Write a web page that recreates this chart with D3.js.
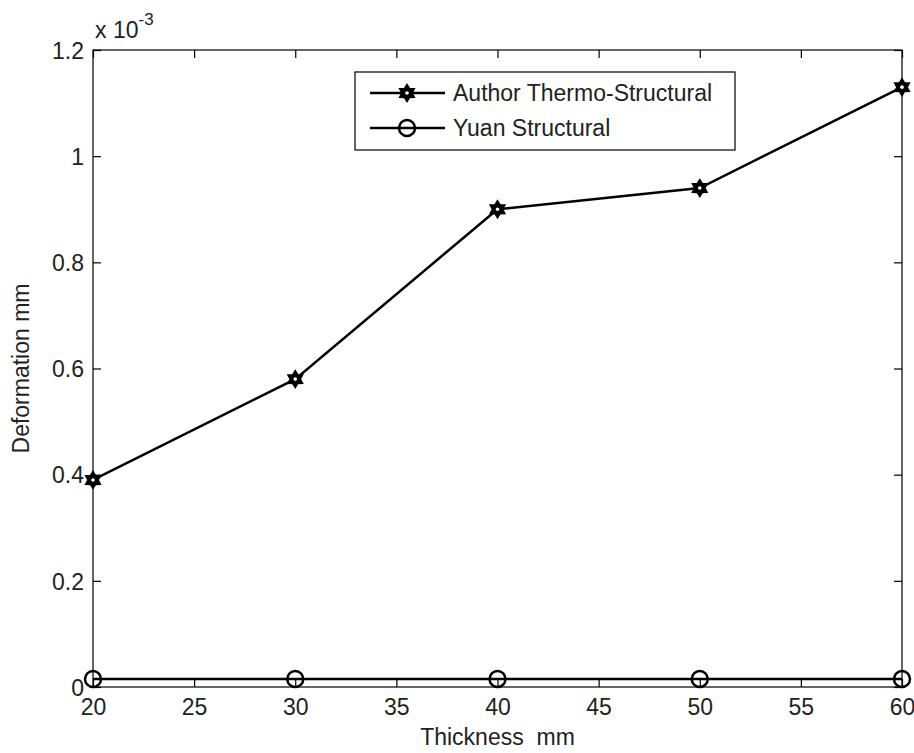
<!DOCTYPE html>
<html>
<head>
<meta charset="utf-8">
<script src="https://cdn.jsdelivr.net/npm/d3@7"></script>
<style>
  body { margin: 0; background: #fff; }
  text { font-family: "Liberation Sans", Arial, sans-serif; fill: #222; white-space: pre; }
</style>
</head>
<body>
<svg id="chart" width="914" height="753"></svg>
<script>
// data (deformation in units of 1e-3 mm)
const thickness = [20, 30, 40, 50, 60];
const authorThermo = [0.39, 0.58, 0.90, 0.94, 1.13];
const yuanStructural = [0.015, 0.015, 0.015, 0.015, 0.015];
const xTicks = [20, 25, 30, 35, 40, 45, 50, 55, 60];
const yTicks = [0, 0.2, 0.4, 0.6, 0.8, 1, 1.2];
const seriesNames = ['Author Thermo-Structural', 'Yuan Structural'];

const margin = { top: 50, right: 12, bottom: 66, left: 93 };
const W = 914, H = 753;
const w = W - margin.left - margin.right, h = H - margin.top - margin.bottom;
const fs = 23, tick = 8;

const svg = d3.select('#chart');
const g = svg.append('g').attr('transform', `translate(${margin.left},${margin.top})`);

const x = d3.scaleLinear().domain([20, 60]).range([0, w]);
const y = d3.scaleLinear().domain([0, 1.2]).range([h, 0]);

// box
g.append('rect').attr('width', w).attr('height', h)
  .attr('fill', 'none').attr('stroke', '#000').attr('stroke-width', 1.2);

// ticks on all four sides, pointing inward
const xAxis = g.append('g').attr('transform', `translate(0,${h})`)
  .call(d3.axisBottom(x).tickValues(xTicks).tickSizeInner(-tick).tickSizeOuter(0).tickPadding(12));
const xTop = g.append('g')
  .call(d3.axisTop(x).tickValues(xTicks).tickSizeInner(-tick).tickSizeOuter(0).tickFormat(''));
const yAxis = g.append('g')
  .call(d3.axisLeft(y).tickValues(yTicks).tickSizeInner(-tick).tickSizeOuter(0).tickPadding(9)
    .tickFormat(d => d === 0 ? '0' : d3.format('')(+d.toFixed(1))));
const yRight = g.append('g').attr('transform', `translate(${w},0)`)
  .call(d3.axisRight(y).tickValues(yTicks).tickSizeInner(-tick).tickSizeOuter(0).tickFormat(''));

[xAxis, xTop, yAxis, yRight].forEach(a => {
  a.select('.domain').remove();
  a.selectAll('line').attr('stroke', '#000').attr('stroke-width', 1.2);
  a.selectAll('text').style('font-size', fs + 'px').attr('fill', '#222');
});
yAxis.selectAll('text').attr('dy', '0.36em');

// exponent label
const ex = g.append('text').attr('x', 2).attr('y', -12).style('font-size', fs + 'px');
ex.append('tspan').text('x 10');
ex.append('tspan').attr('dy', -13).style('font-size', '17px').text('-3');

// axis titles
svg.append('text').attr('x', margin.left + w / 2).attr('y', H - 8)
  .attr('text-anchor', 'middle').style('font-size', fs + 'px').text('Thickness  mm');
svg.append('text').attr('transform', `translate(29,${margin.top + h / 2}) rotate(-90)`)
  .attr('text-anchor', 'middle').style('font-size', fs + 'px').text('Deformation mm');

// markers
const hexagram = (sel, size) => {
  const pts = [];
  for (let i = 0; i < 12; i++) {
    const r = i % 2 === 0 ? size : size * 0.6;
    const a = -Math.PI / 2 + i * Math.PI / 6;
    pts.push([r * Math.cos(a), r * Math.sin(a)]);
  }
  sel.append('path').attr('d', d3.line()(pts) + 'Z')
    .attr('fill', '#000').attr('stroke', '#000').attr('stroke-width', 2);
  sel.append('circle').attr('r', 1.8).attr('fill', '#fff');
};
const circleMark = (sel) => {
  sel.append('circle').attr('r', 8).attr('fill', 'none')
    .attr('stroke', '#000').attr('stroke-width', 2.5);
};

const line = d3.line().x(d => x(d[0])).y(d => y(d[1]));
const series = [
  { name: seriesNames[0], values: thickness.map((t, i) => [t, authorThermo[i]]), mark: s => hexagram(s, 8) },
  { name: seriesNames[1], values: thickness.map((t, i) => [t, yuanStructural[i]]), mark: circleMark }
];

series.forEach(s => {
  g.append('path').datum(s.values).attr('d', line)
    .attr('fill', 'none').attr('stroke', '#000').attr('stroke-width', 2.5);
  g.selectAll(null).data(s.values).enter().append('g')
    .attr('transform', d => `translate(${x(d[0])},${y(d[1])})`)
    .each(function () { s.mark(d3.select(this)); });
});

// legend
const lg = svg.append('g').attr('transform', 'translate(355,72)');
lg.append('rect').attr('width', 380).attr('height', 78)
  .attr('fill', '#fff').attr('stroke', '#000').attr('stroke-width', 1.2);
series.forEach((s, i) => {
  const row = lg.append('g').attr('transform', `translate(0,${21 + i * 35})`);
  row.append('line').attr('x1', 15).attr('x2', 90).attr('stroke', '#000').attr('stroke-width', 2.5);
  const m = row.append('g').attr('transform', 'translate(52,0)');
  s.mark(m);
  row.append('text').attr('x', 98).attr('dy', '0.36em').style('font-size', fs + 'px').text(s.name);
});
</script>
</body>
</html>
